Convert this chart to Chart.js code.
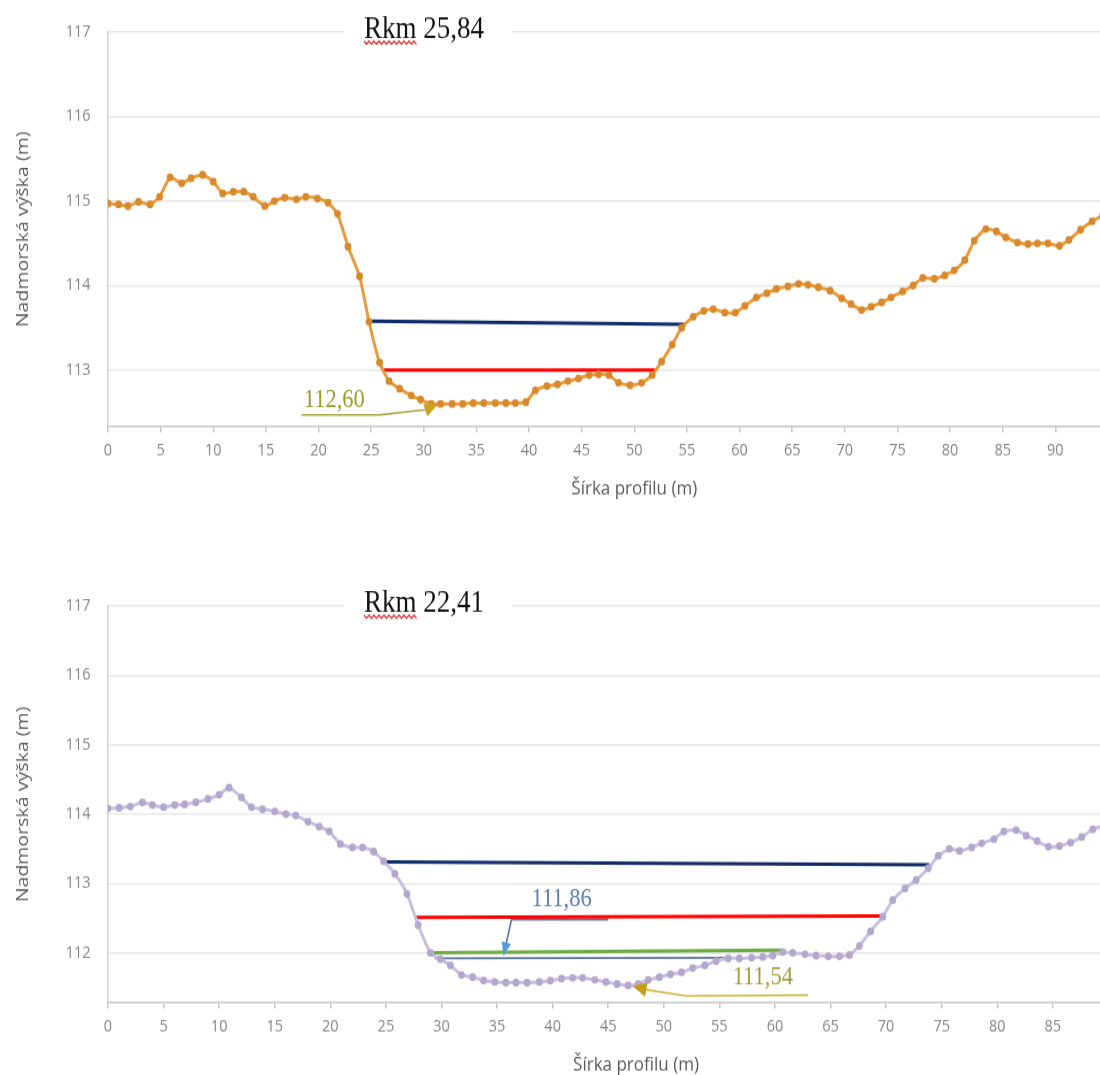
<!DOCTYPE html>
<html lang="sk">
<head>
<meta charset="utf-8">
<title>Priečne profily</title>
<script src="https://cdn.jsdelivr.net/npm/chart.js@4.4.0/dist/chart.umd.min.js"></script>
<style>
  html, body { margin: 0; padding: 0; background: #fff; overflow: hidden; width: 1100px; height: 1075px; }
  /* the source picture is stretched a bit vertically, so the canvases are too */
  .graf { position: absolute; left: 0; width: 1180px; transform: scaleY(1.15); transform-origin: 0 0; }
  #g1 { top: 0; }
  #g2 { top: 560px; }
</style>
</head>
<body>
<div class="graf" id="g1"><canvas id="profil1" width="1180" height="445"></canvas></div>
<div class="graf" id="g2"><canvas id="profil2" width="1180" height="459"></canvas></div>
<script>

/*-------- PROFIL Rkm 25,84 --------*/
var nazov1 = 'Rkm 25,84';
var prof1_x = [0.0,1.0,1.9,2.9,4.0,4.9,5.9,7.0,7.9,9.0,10.0,10.9,11.9,12.9,13.8,14.9,15.8,16.8,17.9,18.8,19.9,20.9,21.8,22.8,23.9,24.8,25.8,26.7,27.7,28.8,29.7,30.7,31.6,32.7,33.7,34.7,35.7,36.8,37.8,38.7,39.7,40.6,41.7,42.7,43.7,44.7,45.7,46.6,47.6,48.5,49.6,50.7,51.7,52.6,53.6,54.5,55.6,56.6,57.5,58.6,59.6,60.5,61.6,62.6,63.5,64.6,65.6,66.5,67.5,68.6,69.7,70.6,71.6,72.5,73.5,74.4,75.5,76.5,77.4,78.5,79.5,80.4,81.4,82.3,83.4,84.4,85.3,86.4,87.4,88.3,89.3,90.4,91.3,92.4,93.5,94.5];
var prof1_y = [114.97,114.96,114.94,114.99,114.96,115.05,115.28,115.21,115.27,115.31,115.23,115.09,115.11,115.11,115.05,114.94,115.00,115.04,115.02,115.05,115.03,114.98,114.85,114.46,114.11,113.57,113.09,112.87,112.78,112.70,112.65,112.60,112.60,112.60,112.60,112.61,112.61,112.61,112.61,112.61,112.62,112.76,112.81,112.83,112.87,112.90,112.94,112.95,112.94,112.85,112.82,112.85,112.94,113.10,113.30,113.50,113.63,113.70,113.72,113.68,113.68,113.76,113.86,113.91,113.96,113.99,114.02,114.01,113.98,113.94,113.85,113.78,113.71,113.75,113.80,113.86,113.93,114.00,114.09,114.08,114.12,114.18,114.30,114.53,114.67,114.64,114.57,114.51,114.49,114.50,114.50,114.47,114.54,114.66,114.76,114.83];
var modra1_x = [24.8, 54.9];
var modra1_y = [113.58, 113.54];
var cervena1_x = [26.0, 52.0];
var cervena1_y = [113.00, 113.00];
var sipka1_x = [18.4, 25.8, 30.2, 31.3];
var sipka1_y = [112.47, 112.47, 112.53, 112.59];
var popis1 = '112,60';
var popis1_x = 18.6;
var popis1_y = 112.56;

/*-------- PROFIL Rkm 22,41 --------*/
var nazov2 = 'Rkm 22,41';
var prof2_x = [0.0,1.0,2.0,3.1,4.0,5.0,6.0,6.9,7.9,9.0,10.0,10.9,12.0,12.9,13.9,15.0,16.0,16.9,18.0,19.0,19.9,20.9,22.0,22.9,23.9,24.8,25.8,26.9,27.9,29.0,29.9,30.8,31.8,32.8,33.8,34.8,35.8,36.7,37.7,38.8,39.8,40.8,41.8,42.7,43.8,44.8,45.8,46.8,47.7,48.6,49.6,50.6,51.6,52.6,53.7,54.7,55.8,56.8,57.9,58.9,59.8,60.7,61.6,62.7,63.7,64.8,65.8,66.7,67.6,68.6,69.7,70.6,71.7,72.7,73.8,74.7,75.7,76.6,77.7,78.6,79.7,80.6,81.7,82.6,83.6,84.6,85.6,86.6,87.6,88.6,89.6];
var prof2_y = [114.08,114.09,114.11,114.17,114.13,114.10,114.13,114.14,114.17,114.22,114.28,114.38,114.24,114.10,114.07,114.04,114.00,113.98,113.89,113.82,113.75,113.57,113.52,113.52,113.46,113.32,113.14,112.85,112.40,112.00,111.91,111.82,111.68,111.65,111.60,111.58,111.57,111.57,111.57,111.58,111.60,111.63,111.64,111.64,111.61,111.58,111.55,111.53,111.55,111.61,111.65,111.69,111.72,111.78,111.82,111.88,111.92,111.92,111.93,111.94,111.96,112.01,112.00,111.98,111.96,111.95,111.95,111.97,112.10,112.31,112.52,112.76,112.93,113.05,113.22,113.40,113.50,113.47,113.52,113.58,113.64,113.75,113.77,113.69,113.61,113.53,113.54,113.59,113.67,113.78,113.84];
var modra2_x = [25.0, 73.9];
var modra2_y = [113.31, 113.27];
var cervena2_x = [27.7, 69.7];
var cervena2_y = [112.51, 112.53];
var zelena2_x = [29.2, 60.6];
var zelena2_y = [112.00, 112.04];
var siva2_x = [29.4, 55.6];
var siva2_y = [111.92, 111.93];
var sipkaModra2_x = [45.0, 36.3, 35.6];
var sipkaModra2_y = [112.48, 112.48, 111.97];
var sipka2_x = [63.0, 52.0, 48.7, 47.2];
var sipka2_y = [111.39, 111.38, 111.46, 111.52];
var popisModry2 = '111,86';
var popisModry2_x = 38.1;
var popisModry2_y = 112.67;
var popis2 = '111,54';
var popis2_x = 56.2;
var popis2_y = 111.55;

var osX = 'Šírka profilu (m)';
var osY = 'Nadmorská výška (m)';

/*-------- pomocne --------*/
var pismo = '"Open Sans", "Noto Sans", sans-serif';
var serif = '"Liberation Serif", "Times New Roman", serif';

function body(xs, ys) {
  return xs.map(function (x, i) { return { x: x, y: ys[i] }; });
}

function ciara(xs, ys, farba, hrubka) {
  return { data: body(xs, ys), borderColor: farba, borderWidth: hrubka, pointRadius: 0, fill: false, tension: 0 };
}

function profil(xs, ys, farba, bod) {
  return {
    data: body(xs, ys), borderColor: farba, borderWidth: 3, tension: 0.2, fill: false,
    pointRadius: 3.4, pointBackgroundColor: bod, pointBorderColor: bod, pointBorderWidth: 0
  };
}

function sipka(xs, ys, farba, hrot, hrotFarba) {
  var d = ciara(xs, ys, farba, 1.6);
  d.hrot = hrot;
  d.hrotFarba = hrotFarba;
  return d;
}

// arrowheads, title box and the value texts
var popisky = {
  id: 'popisky',
  afterDatasetsDraw: function (chart) {
    var ctx = chart.ctx;
    chart.data.datasets.forEach(function (ds, i) {
      if (!ds.hrot) return;
      var pts = chart.getDatasetMeta(i).data;
      var a = pts[pts.length - 2], b = pts[pts.length - 1];
      var uhol = Math.atan2(b.y - a.y, b.x - a.x);
      ctx.save();
      ctx.translate(b.x, b.y);
      ctx.rotate(uhol);
      ctx.beginPath();
      ctx.moveTo(0, 0);
      ctx.lineTo(-ds.hrot, -ds.hrot * 0.45);
      ctx.lineTo(-ds.hrot, ds.hrot * 0.45);
      ctx.closePath();
      ctx.fillStyle = ds.hrotFarba;
      ctx.fill();
      ctx.restore();
    });
  },
  afterDraw: function (chart) {
    var o = chart.options.plugins.popisky;
    var ctx = chart.ctx, ca = chart.chartArea;
    var sx = chart.scales.x, sy = chart.scales.y;
    ctx.save();
    ctx.fillStyle = '#ffffff';
    ctx.fillRect(ca.left + 236, ca.top - 22, 168, 36);
    ctx.font = '27px ' + serif;
    ctx.fillStyle = '#111111';
    ctx.textBaseline = 'alphabetic';
    ctx.textAlign = 'left';
    var tx = ca.left + 256, ty = ca.top + 5;
    ctx.fillText(o.nazov, tx, ty);
    // red spell-check wave under "Rkm"
    var w = ctx.measureText(o.nazov.split(' ')[0]).width;
    ctx.beginPath();
    for (var k = 0; k <= w; k += 2.5) {
      var yy = ty + 3 + (Math.round(k / 2.5) % 2 === 0 ? 0 : 2.6);
      if (k === 0) ctx.moveTo(tx + k, yy); else ctx.lineTo(tx + k, yy);
    }
    ctx.strokeStyle = '#e0302c';
    ctx.lineWidth = 1.3;
    ctx.stroke();
    ctx.font = '22.5px ' + serif;
    o.texty.forEach(function (t) {
      ctx.fillStyle = t.farba;
      ctx.fillText(t.text, sx.getPixelForValue(t.x), sy.getPixelForValue(t.y));
    });
    ctx.restore();
  }
};

function osi(yMin, xMax) {
  return {
    x: {
      type: 'linear', min: 0, max: xMax,
      ticks: { stepSize: 5, autoSkip: false, maxRotation: 0, padding: 7, color: '#858585', font: { family: pismo, size: 14.5 } },
      grid: { drawOnChartArea: false, drawTicks: true, tickLength: 5, color: '#c6c6c6', lineWidth: 1.5 },
      border: { display: true, color: '#c6c6c6', width: 1.5 },
      title: { display: true, text: osX, color: '#5a5a5a', font: { family: pismo, size: 17 }, padding: { top: 0, bottom: 10 } },
      afterFit: function (s) { s.height = 74; }
    },
    y: {
      type: 'linear', min: yMin, max: 117,
      ticks: { stepSize: 1, padding: 17.5, color: '#858585', font: { family: pismo, size: 14.5 } },
      afterBuildTicks: function (s) { s.ticks = s.ticks.filter(function (t) { return Number.isInteger(t.value); }); },
      grid: { color: '#e8e8e8', lineWidth: 1.5, drawTicks: false },
      border: { display: true, color: '#d2d2d2', width: 1.5 },
      title: { display: true, text: osY, color: '#5a5a5a', font: { family: pismo, size: 17 }, padding: { top: 13, bottom: 0 } },
      afterFit: function (s) { s.width = 108; }
    }
  };
}

function zakladne(padTop, padRight, nazov, texty) {
  return {
    responsive: false,
    animation: false,
    layout: { padding: { top: padTop, right: padRight, bottom: 0, left: 0 } },
    plugins: {
      legend: { display: false },
      tooltip: { enabled: false },
      popisky: { nazov: nazov, texty: texty }
    }
  };
}

/*-------- GRAF 1 --------*/
var opt1 = zakladne(27.8, 17, nazov1, [
  { text: popis1, x: popis1_x, y: popis1_y, farba: '#9c9a2c' }
]);
opt1.scales = osi(112.33, 100);

var ctx = document.getElementById('profil1');
var graf1 = new Chart(ctx, {
  type: 'line',
  data: {
    datasets: [
      profil(prof1_x, prof1_y, '#eb9c3a', '#d8892c'),
      ciara(modra1_x, modra1_y, '#0f2a68', 3),
      ciara(cervena1_x, cervena1_y, '#ff0000', 3),
      sipka(sipka1_x, sipka1_y, '#a8a23c', 13, '#c9a224')
    ]
  },
  options: opt1,
  plugins: [popisky]
});

/*-------- GRAF 2 --------*/
var opt2 = zakladne(40, 16, nazov2, [
  { text: popisModry2, x: popisModry2_x, y: popisModry2_y, farba: '#5682b4' },
  { text: popis2, x: popis2_x, y: popis2_y, farba: '#a69c3e' }
]);
opt2.scales = osi(111.28, 95);

var ctx = document.getElementById('profil2');
var graf2 = new Chart(ctx, {
  type: 'line',
  data: {
    datasets: [
      profil(prof2_x, prof2_y, '#c8bfdf', '#b2a7cd'),
      ciara(modra2_x, modra2_y, '#0f2a68', 3),
      ciara(cervena2_x, cervena2_y, '#ff0000', 3),
      ciara(zelena2_x, zelena2_y, '#6fab45', 3),
      ciara(siva2_x, siva2_y, '#5c7496', 1.8),
      sipka(sipkaModra2_x, sipkaModra2_y, '#4f75a3', 11, '#5b9bd5'),
      sipka(sipka2_x, sipka2_y, '#d4b43c', 14, '#c49c1a')
    ]
  },
  options: opt2,
  plugins: [popisky]
});

</script>
</body>
</html>
